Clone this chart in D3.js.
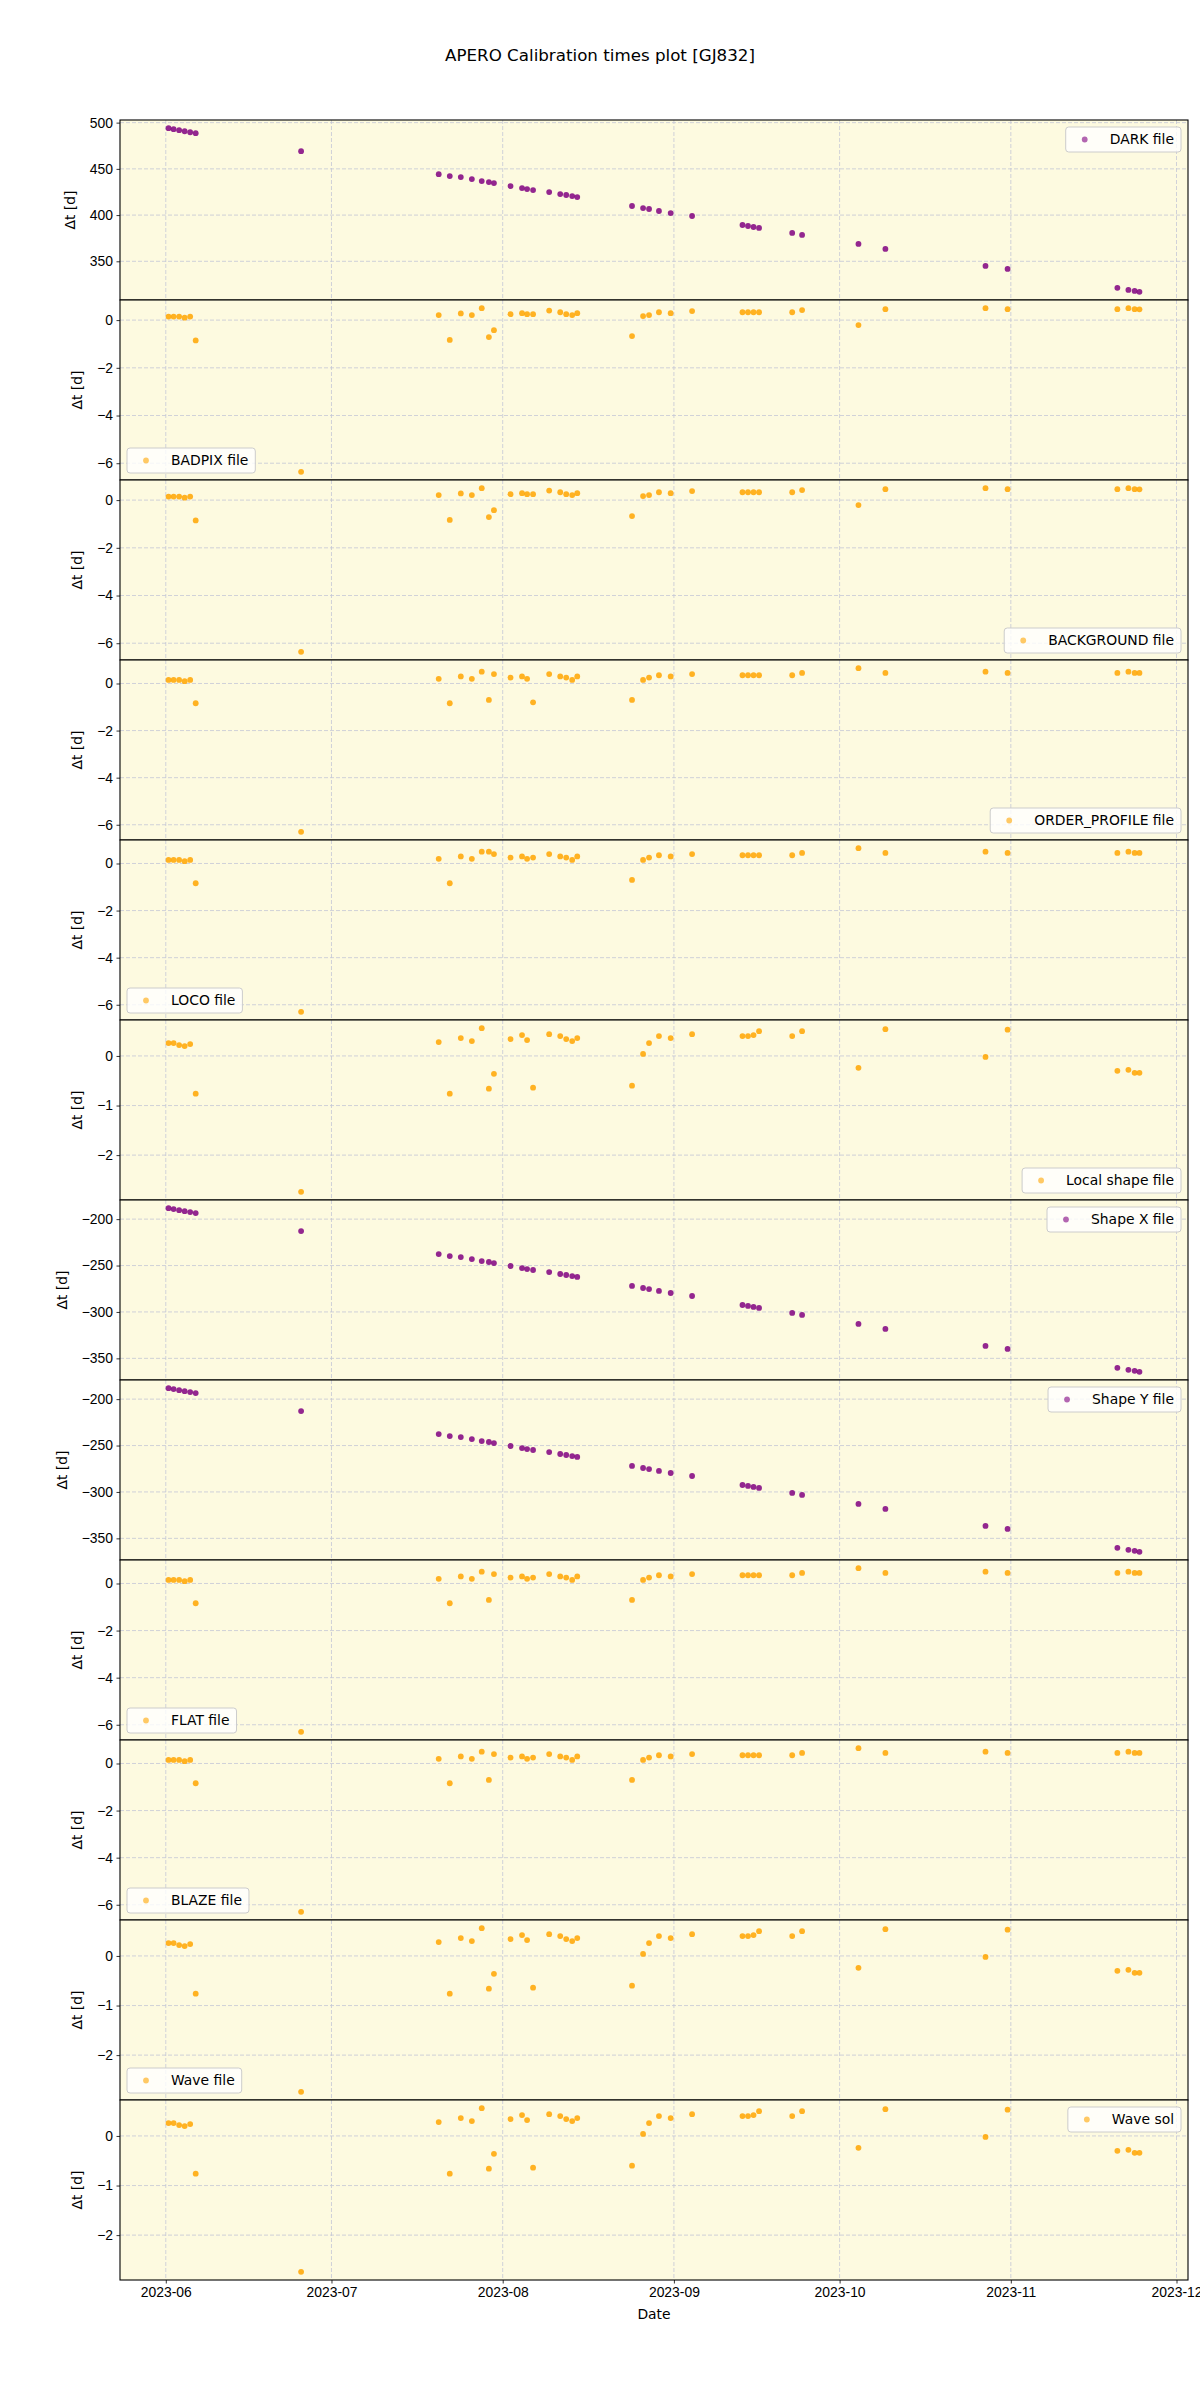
<!DOCTYPE html>
<html>
<head>
<meta charset="utf-8">
<script src="https://cdn.jsdelivr.net/npm/d3@7"></script>
<style>
  body { margin: 0; background: #fff; }
  svg { display: block; font-family: "DejaVu Sans", sans-serif; }
</style>
</head>
<body>
<script>
// observation dates (same for every panel)
const obsDates = [
  "2023-06-01 12:00", "2023-06-02 10:00", "2023-06-03 10:00", "2023-06-04 10:00",
  "2023-06-05 10:00", "2023-06-06 10:00", "2023-06-25 12:00",
  "2023-07-20 10:00", "2023-07-22 10:00", "2023-07-24 10:00", "2023-07-26 10:00",
  "2023-07-28 05:00", "2023-07-29 12:00", "2023-07-30 10:00", "2023-08-02 10:00",
  "2023-08-04 12:00", "2023-08-05 10:00", "2023-08-06 12:00", "2023-08-09 10:00",
  "2023-08-11 10:00", "2023-08-12 12:00", "2023-08-13 14:00", "2023-08-14 12:00",
  "2023-08-24 10:00", "2023-08-26 10:00", "2023-08-27 12:00", "2023-08-29 07:00",
  "2023-08-31 10:00", "2023-09-04 07:00", "2023-09-13 10:00", "2023-09-14 10:00",
  "2023-09-15 10:00", "2023-09-16 10:00", "2023-09-22 10:00", "2023-09-24 05:00",
  "2023-10-04 10:00", "2023-10-09 07:00", "2023-10-27 10:00", "2023-10-31 10:00",
  "2023-11-20 07:00", "2023-11-22 07:00", "2023-11-23 10:00", "2023-11-24 07:00"
];

const darkVals = [494.0, 492.9, 491.8, 490.7, 489.6, 488.6, 469.1,
  444.3, 442.2, 441.1, 438.9, 436.8, 435.7, 434.6, 431.4, 429.2, 428.1, 427.1, 424.9, 422.7, 421.7, 420.6, 419.5,
  409.8, 407.6, 406.6, 404.4, 402.2, 399.0, 389.3, 388.2, 387.1, 386.1, 380.7, 378.5, 368.8, 363.4, 345.0, 341.8, 321.3, 319.1, 318.0, 317.0];

const badpixVals = [0.15, 0.15, 0.15, 0.10, 0.15, -0.85, -6.36,
  0.21, -0.83, 0.28, 0.21, 0.50, -0.71, -0.42, 0.25, 0.29, 0.25, 0.25, 0.40, 0.33, 0.25, 0.21, 0.29,
  -0.67, 0.17, 0.21, 0.33, 0.29, 0.38, 0.33, 0.33, 0.33, 0.33, 0.33, 0.42, -0.21, 0.46, 0.50, 0.46, 0.46, 0.50, 0.46, 0.45];

const backgroundVals = [0.15, 0.15, 0.15, 0.10, 0.15, -0.85, -6.36,
  0.21, -0.83, 0.28, 0.21, 0.50, -0.71, -0.42, 0.25, 0.29, 0.25, 0.25, 0.40, 0.33, 0.25, 0.21, 0.29,
  -0.67, 0.17, 0.21, 0.33, 0.29, 0.38, 0.33, 0.33, 0.33, 0.33, 0.33, 0.42, -0.21, 0.46, 0.50, 0.46, 0.46, 0.50, 0.46, 0.45];

const orderProfileVals = [0.15, 0.15, 0.15, 0.10, 0.15, -0.84, -6.30,
  0.20, -0.84, 0.30, 0.20, 0.50, -0.70, 0.40, 0.25, 0.30, 0.20, -0.80, 0.40, 0.30, 0.25, 0.15, 0.30,
  -0.70, 0.15, 0.25, 0.35, 0.30, 0.40, 0.35, 0.35, 0.35, 0.35, 0.35, 0.45, 0.65, 0.45, 0.50, 0.45, 0.45, 0.50, 0.45, 0.45];

const locoVals = [0.15, 0.15, 0.15, 0.10, 0.15, -0.84, -6.30,
  0.20, -0.84, 0.30, 0.20, 0.50, 0.50, 0.40, 0.25, 0.30, 0.20, 0.25, 0.40, 0.30, 0.25, 0.15, 0.30,
  -0.70, 0.15, 0.25, 0.35, 0.30, 0.40, 0.35, 0.35, 0.35, 0.35, 0.35, 0.45, 0.65, 0.45, 0.50, 0.45, 0.45, 0.50, 0.45, 0.45];

const localShapeVals = [0.26, 0.26, 0.22, 0.20, 0.24, -0.76, -2.74,
  0.28, -0.76, 0.36, 0.30, 0.56, -0.66, -0.36, 0.34, 0.42, 0.32, -0.64, 0.44, 0.40, 0.34, 0.30, 0.36,
  -0.60, 0.04, 0.26, 0.40, 0.36, 0.44, 0.40, 0.40, 0.42, 0.50, 0.40, 0.50, -0.24, 0.54, -0.02, 0.53, -0.30, -0.28, -0.34, -0.34];

const shapeXVals = [-188.2, -189.2, -190.3, -191.4, -192.4, -193.5, -212.9,
  -237.6, -239.8, -240.9, -243.0, -245.2, -246.2, -247.3, -250.5, -252.7, -253.8, -254.8, -257.0, -259.1, -260.2, -261.3, -262.3,
  -272.0, -274.2, -275.3, -277.4, -279.6, -282.8, -292.5, -293.5, -294.6, -295.7, -301.1, -303.2, -312.9, -318.3, -336.6, -339.8, -360.2, -362.4, -363.4, -364.5];

const shapeYVals = [-188.2, -189.2, -190.3, -191.4, -192.4, -193.5, -212.9,
  -237.6, -239.8, -240.9, -243.0, -245.2, -246.2, -247.3, -250.5, -252.7, -253.8, -254.8, -257.0, -259.1, -260.2, -261.3, -262.3,
  -272.0, -274.2, -275.3, -277.4, -279.6, -282.8, -292.5, -293.5, -294.6, -295.7, -301.1, -303.2, -312.9, -318.3, -336.6, -339.8, -360.2, -362.4, -363.4, -364.5];

const flatVals = [0.15, 0.15, 0.15, 0.10, 0.15, -0.84, -6.30,
  0.20, -0.84, 0.30, 0.20, 0.50, -0.70, 0.40, 0.25, 0.30, 0.20, 0.25, 0.40, 0.30, 0.25, 0.15, 0.30,
  -0.70, 0.15, 0.25, 0.35, 0.30, 0.40, 0.35, 0.35, 0.35, 0.35, 0.35, 0.45, 0.65, 0.45, 0.50, 0.45, 0.45, 0.50, 0.45, 0.45];

const blazeVals = [0.15, 0.15, 0.15, 0.10, 0.15, -0.84, -6.30,
  0.20, -0.84, 0.30, 0.20, 0.50, -0.70, 0.40, 0.25, 0.30, 0.20, 0.25, 0.40, 0.30, 0.25, 0.15, 0.30,
  -0.70, 0.15, 0.25, 0.35, 0.30, 0.40, 0.35, 0.35, 0.35, 0.35, 0.35, 0.45, 0.65, 0.45, 0.50, 0.45, 0.45, 0.50, 0.45, 0.45];

const waveFileVals = localShapeVals.slice();
const waveSolVals = localShapeVals.slice();

const panelNames = ["DARK file", "BADPIX file", "BACKGROUND file", "ORDER_PROFILE file", "LOCO file",
  "Local shape file", "Shape X file", "Shape Y file", "FLAT file", "BLAZE file", "Wave file", "Wave sol"];
const panelValues = [darkVals, badpixVals, backgroundVals, orderProfileVals, locoVals,
  localShapeVals, shapeXVals, shapeYVals, flatVals, blazeVals, waveFileVals, waveSolVals];
const panelColors = ["purple", "orange", "orange", "orange", "orange",
  "orange", "purple", "purple", "orange", "orange", "orange", "orange"];
const panelTicks = [
  [350, 400, 450, 500], [-6, -4, -2, 0], [-6, -4, -2, 0], [-6, -4, -2, 0], [-6, -4, -2, 0],
  [-2, -1, 0], [-350, -300, -250, -200], [-350, -300, -250, -200], [-6, -4, -2, 0], [-6, -4, -2, 0],
  [-2, -1, 0], [-2, -1, 0]];
const legendPlaces = ["upper right", "lower left", "lower right", "lower right", "lower left",
  "lower right", "upper right", "upper right", "lower left", "lower left", "lower left", "upper right"];
const monthTicks = ["2023-06-01", "2023-07-01", "2023-08-01", "2023-09-01", "2023-10-01", "2023-11-01", "2023-12-01"];

const W = 1200, H = 2400;
const plotLeft = 120, plotRight = 1188, plotTop = 120, panelH = 180;
const fs = 13.9;

const parseObs = d3.timeParse("%Y-%m-%d %H:%M");
const parseDay = d3.timeParse("%Y-%m-%d");
const times = obsDates.map(parseObs);
const tickDates = monthTicks.map(parseDay);

const svg = d3.select("body").append("svg")
  .attr("width", W)
  .attr("height", H);

svg.append("text")
  .attr("x", 600).attr("y", 61)
  .attr("text-anchor", "middle")
  .style("font-size", "16.7px")
  .text("APERO Calibration times plot [GJ832]");

// x scale with matplotlib-like 5% margins
const tExt = d3.extent(times);
const tPad = (tExt[1] - tExt[0]) * 0.05;
const x = d3.scaleTime()
  .domain([new Date(+tExt[0] - tPad), new Date(+tExt[1] + tPad)])
  .range([plotLeft, plotRight]);

panelValues.forEach((vals, i) => {
  const y0 = plotTop + i * panelH;
  const g = svg.append("g").attr("transform", "translate(0," + y0 + ")");

  const ext = d3.extent(vals);
  const pad = (ext[1] - ext[0]) * 0.05;
  const y = d3.scaleLinear().domain([ext[0] - pad, ext[1] + pad]).range([panelH, 0]);

  g.append("rect")
    .attr("x", plotLeft).attr("y", 0)
    .attr("width", plotRight - plotLeft).attr("height", panelH)
    .attr("fill", "#fdfae0");

  // grid
  g.selectAll(".vgrid").data(tickDates).enter().append("line")
    .attr("x1", d => x(d)).attr("x2", d => x(d))
    .attr("y1", 0).attr("y2", panelH)
    .attr("stroke", "#c4c6d6").attr("stroke-width", 0.8).attr("stroke-dasharray", "4,2");
  g.selectAll(".hgrid").data(panelTicks[i]).enter().append("line")
    .attr("x1", plotLeft).attr("x2", plotRight)
    .attr("y1", d => y(d)).attr("y2", d => y(d))
    .attr("stroke", "#c4c6d6").attr("stroke-width", 0.8).attr("stroke-dasharray", "4,2");

  g.selectAll("circle").data(vals).enter().append("circle")
    .attr("cx", (d, k) => x(times[k]))
    .attr("cy", d => y(d))
    .attr("r", 2.9)
    .attr("fill", panelColors[i])
    .attr("fill-opacity", 0.85);

  // y axis
  const yAxis = g.append("g")
    .attr("transform", "translate(" + plotLeft + ",0)")
    .call(d3.axisLeft(y).tickValues(panelTicks[i]).tickSize(3.5).tickPadding(3.5).tickFormat(d3.format("d")));
  yAxis.select(".domain").remove();
  yAxis.selectAll("text").style("font-size", fs + "px").attr("fill", "#000");
  yAxis.selectAll("line").attr("stroke", "#000").attr("stroke-width", 0.8);
  const yb = yAxis.node().getBBox();
  g.append("text")
    .attr("transform", "translate(" + (plotLeft + yb.x - 15) + "," + (panelH / 2) + ") rotate(-90)")
    .attr("text-anchor", "middle")
    .style("font-size", fs + "px")
    .text("\u0394t [d]");

  // legend
  const lg = g.append("g");
  const lt = lg.append("text").style("font-size", fs + "px").attr("dy", "0.35em").text(panelNames[i]);
  const tw = lt.node().getComputedTextLength();
  const bw = tw + 51, bh = 25;
  const place = legendPlaces[i];
  const bx = place.includes("right") ? plotRight - 7 - bw : plotLeft + 7;
  const by = place.includes("upper") ? 7 : panelH - 7 - bh;
  lg.insert("rect", "text")
    .attr("x", bx).attr("y", by).attr("width", bw).attr("height", bh)
    .attr("rx", 3)
    .attr("fill", "#fff").attr("fill-opacity", 0.8)
    .attr("stroke", "#cccccc").attr("stroke-width", 1);
  lg.insert("circle", "text")
    .attr("cx", bx + 19).attr("cy", by + bh / 2).attr("r", 2.9)
    .attr("fill", panelColors[i]).attr("fill-opacity", 0.6);
  lt.attr("x", bx + 44).attr("y", by + bh / 2);

  // frame
  g.append("rect")
    .attr("x", plotLeft).attr("y", 0)
    .attr("width", plotRight - plotLeft).attr("height", panelH)
    .attr("fill", "none").attr("stroke", "#000").attr("stroke-width", 1.1);

  if (i === panelValues.length - 1) {
    const xAxis = g.append("g")
      .attr("transform", "translate(0," + panelH + ")")
      .call(d3.axisBottom(x).tickValues(tickDates).tickSize(3.5).tickPadding(3.5).tickFormat(d3.timeFormat("%Y-%m")));
    xAxis.select(".domain").remove();
    xAxis.selectAll("text").style("font-size", fs + "px").attr("fill", "#000");
    xAxis.selectAll("line").attr("stroke", "#000").attr("stroke-width", 0.8);
    g.append("text")
      .attr("x", (plotLeft + plotRight) / 2).attr("y", panelH + 39)
      .attr("text-anchor", "middle")
      .style("font-size", fs + "px")
      .text("Date");
  }
});
</script>
</body>
</html>
